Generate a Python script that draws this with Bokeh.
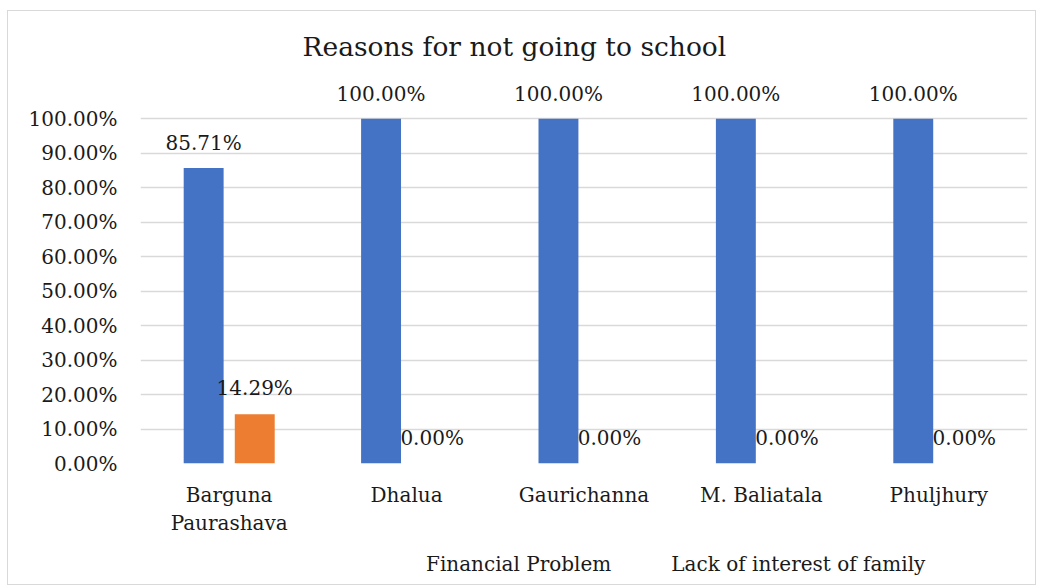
from bokeh.plotting import figure
from bokeh.layouts import column
from bokeh.models import FactorRange, Range1d, FixedTicker, ColumnDataSource, Legend, LegendItem, NumeralTickFormatter, Title
from bokeh.transform import dodge
from bokeh.core.properties import value
from bokeh.embed import file_html
from bokeh.resources import INLINE

categories = ["Barguna\nPaurashava", "Dhalua", "Gaurichanna", "M. Baliatala", "Phuljhury"]
financial = [0.8571, 1.0, 1.0, 1.0, 1.0]
lack_interest = [0.1429, 0.0, 0.0, 0.0, 0.0]
series_names = ["Financial Problem", "Lack of interest of family"]
y_ticks = [0.0, 0.1, 0.2, 0.3, 0.4, 0.5, 0.6, 0.7, 0.8, 0.9, 1.0]

FONT = "DejaVu Serif"
BLUE = "#4472C4"
ORANGE = "#ED7D31"
TXT = "#1a1a1a"

src = ColumnDataSource(dict(
    cat=categories,
    fin=financial,
    lack=lack_interest,
    fin_lbl=["{:.2f}%".format(v * 100) for v in financial],
    lack_lbl=["{:.2f}%".format(v * 100) for v in lack_interest],
))

p = figure(x_range=FactorRange(*categories, range_padding=0),
           y_range=Range1d(0, 1.12),
           frame_width=887, frame_height=386,
           output_backend="svg", toolbar_location=None,
           min_border_left=132, min_border_right=8, min_border_top=66, min_border_bottom=70)

p.title = Title(text="Reasons for not going to school", align="left",
                text_font=FONT, text_font_size="26.5px", text_font_style="normal",
                text_color=TXT, offset=162, standoff=32)

p.vbar(x=dodge("cat", -0.144, range=p.x_range), top="fin", width=0.225,
       source=src, fill_color=BLUE, line_color=None)
p.vbar(x=dodge("cat", 0.144, range=p.x_range), top="lack", width=0.225,
       source=src, fill_color=ORANGE, line_color=None)

p.text(x=dodge("cat", -0.144, range=p.x_range), y="fin", text="fin_lbl", source=src,
       text_font=value(FONT), text_font_size="20px", text_align="center",
       text_baseline="alphabetic", y_offset=-25, text_color=TXT)
p.text(x=dodge("cat", 0.144, range=p.x_range), y="lack", text="lack_lbl", source=src,
       text_font=value(FONT), text_font_size="20px", text_align="center",
       text_baseline="alphabetic", y_offset=-26, text_color=TXT)

p.yaxis.ticker = FixedTicker(ticks=y_ticks)
p.yaxis.formatter = NumeralTickFormatter(format="0.00%")
p.yaxis.axis_line_color = None
p.yaxis.major_tick_line_color = None
p.yaxis.minor_tick_line_color = None
p.yaxis.major_label_text_font = FONT
p.yaxis.major_label_text_font_size = "20px"
p.yaxis.major_label_text_color = TXT
p.yaxis.major_label_standoff = 17

p.xaxis.axis_line_color = None
p.xaxis.major_tick_line_color = None
p.xaxis.major_label_text_font = FONT
p.xaxis.major_label_text_font_size = "20px"
p.xaxis.major_label_text_color = TXT
p.xaxis.major_label_standoff = 13

p.xgrid.grid_line_color = None
p.ygrid.ticker = FixedTicker(ticks=y_ticks)
p.ygrid.grid_line_color = "#d9d9d9"
p.ygrid.grid_line_width = 1.5
p.outline_line_color = None

# Legend strip (separate small figure so nothing is clipped)
leg = figure(width=1027, height=46, x_range=Range1d(0, 1), y_range=Range1d(0, 1),
             x_axis_type=None, y_axis_type=None,
             output_backend="svg", toolbar_location=None, min_border=0)
leg.outline_line_color = None
leg.xgrid.grid_line_color = None
leg.ygrid.grid_line_color = None
empty = ColumnDataSource(dict(x=[], top=[]))
lr1 = leg.vbar(x="x", top="top", width=0.1, source=empty, fill_color=BLUE, line_color=None)
lr2 = leg.vbar(x="x", top="top", width=0.1, source=empty, fill_color=ORANGE, line_color=None)

legend = Legend(items=[LegendItem(label=series_names[0], renderers=[lr1]),
                       LegendItem(label=series_names[1], renderers=[lr2])],
                orientation="horizontal", location=(268, 8),
                label_text_font=FONT, label_text_font_size="20px", label_text_color=TXT,
                glyph_width=12, glyph_height=12, spacing=42, label_standoff=6,
                border_line_color=None, background_fill_alpha=0, padding=2, margin=0)
leg.add_layout(legend)

layout = column(p, leg, spacing=0,
                styles={"margin-left": "8px", "margin-top": "11px", "outline": "1px solid #d9d9d9"})

open("out.html", "w").write(file_html(layout, INLINE))
